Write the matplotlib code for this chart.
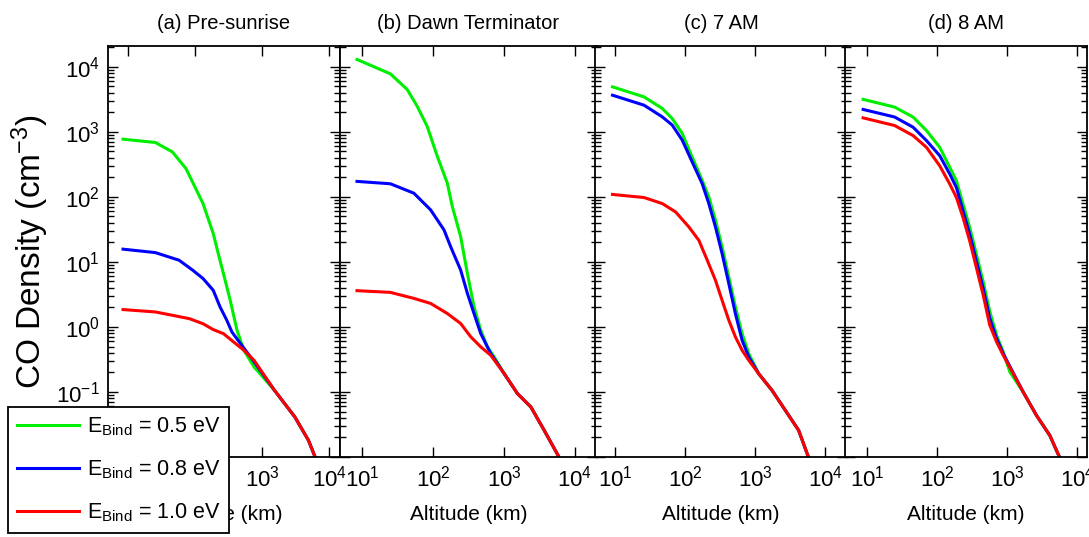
import numpy as np
import matplotlib
matplotlib.use("Agg")
import matplotlib.pyplot as plt

plt.rcParams['font.family'] = ['Liberation Sans', 'DejaVu Sans']
plt.rcParams['mathtext.fontset'] = 'custom'
plt.rcParams['mathtext.rm'] = 'Liberation Sans'
plt.rcParams['mathtext.it'] = 'Liberation Sans:italic'
plt.rcParams['axes.unicode_minus'] = False

titles = ["(a) Pre-sunrise", "(b) Dawn Terminator", "(c) 7 AM", "(d) 8 AM"]
labels = [r"$\mathregular{E_{Bind}}$ = 0.5 eV",
          r"$\mathregular{E_{Bind}}$ = 0.8 eV",
          r"$\mathregular{E_{Bind}}$ = 1.0 eV"]
colors = ['#00ee00', '#0000ff', '#ff0000']

# (a) Pre-sunrise
alt_a_green = [8.4, 25.5, 45.7, 72.9, 131, 186, 221, 264, 333, 421, 532, 755]
co_a_green = [771, 686, 492, 273, 78.9, 27.3, 13.4, 6.62, 2.57, 0.89, 0.438, 0.243]
alt_a_blue = [8.4, 25.5, 57.7, 92.0, 131, 186, 235, 296, 353, 473, 671]
co_a_blue = [15.7, 13.9, 10.6, 7.45, 5.55, 3.66, 2.03, 1.27, 0.837, 0.555, 0.345]
alt_a_red = [8.4, 25.5, 45.7, 82.0, 131, 186, 264, 375, 532, 755]
co_a_red = [1.85, 1.70, 1.51, 1.34, 1.12, 0.91, 0.789, 0.587, 0.438, 0.307]
alt_a_tail = [1524, 3069, 4898, 6194]
co_a_tail = [0.106, 0.0412, 0.018, 0.0098]

# (b) Dawn terminator
alt_b_green = [8.5, 25.1, 43.3, 59.8, 82.8, 115, 159, 187, 245, 305, 378, 470, 583, 726]
co_b_green = [12970, 7800, 4480, 2480, 1216, 420, 163, 71.1, 24.5, 6.67, 2.04, 0.893, 0.494, 0.347]
alt_b_blue = [8.5, 25.1, 53.7, 92.5, 143, 177, 245, 305, 378, 470, 650]
co_b_blue = [173, 159, 114, 63.2, 31.0, 17.2, 7.52, 3.28, 1.61, 0.792, 0.39]
alt_b_red = [8.5, 25.1, 53.7, 92.5, 159, 245, 340, 470, 650]
co_b_red = [3.61, 3.40, 2.75, 2.30, 1.61, 1.13, 0.705, 0.494, 0.367]
alt_b_tail = [1005, 1549, 2393, 3690, 6012]
co_b_tail = [0.192, 0.0942, 0.0587, 0.0256, 0.0098]

# (c) 7 AM
alt_c_green = [9.2, 25.9, 47.2, 65.5, 91.0, 126, 175, 218, 271, 337, 420, 522, 650, 809]
co_c_green = [4920, 3450, 2290, 1600, 942, 412, 180, 100, 43.8, 17.0, 5.87, 2.03, 0.789, 0.389]
alt_c_blue = [9.2, 25.9, 47.2, 65.5, 91.0, 126, 175, 218, 271, 337, 420, 522, 650, 809]
co_c_blue = [3660, 2570, 1700, 1270, 745, 345, 160, 78.9, 34.5, 13.4, 4.65, 1.60, 0.624, 0.345]
alt_c_red = [9.2, 25.9, 47.2, 73.1, 113, 157, 207, 271, 337, 420, 522, 650, 809]
co_c_red = [109, 97.7, 78.9, 58.7, 34.5, 21.5, 10.6, 5.22, 2.57, 1.27, 0.702, 0.438, 0.307]
alt_c_tail = [1122, 1738, 2692, 4169, 5781]
co_c_tail = [0.191, 0.106, 0.0522, 0.0257, 0.0098]

# (d) 8 AM
alt_d_green = [8.8, 24.8, 45.4, 70.5, 109, 152, 189, 235, 293, 365, 454, 565, 705, 877, 1091]
co_d_green = [3160, 2400, 1690, 1050, 579, 284, 177, 77.1, 33.6, 13.0, 5.02, 1.73, 0.752, 0.416, 0.204]
alt_d_blue = [8.8, 24.8, 45.4, 70.5, 109, 152, 189, 235, 293, 365, 454, 565, 705, 877]
co_d_blue = [2210, 1690, 1180, 735, 431, 224, 139, 60.8, 26.5, 10.2, 3.96, 1.36, 0.668, 0.392]
alt_d_red = [8.8, 24.8, 45.4, 70.5, 109, 152, 189, 235, 293, 365, 454, 565, 705, 877]
co_d_red = [1640, 1250, 877, 579, 301, 157, 97.7, 47.9, 20.9, 8.07, 3.13, 1.07, 0.593, 0.369]
alt_d_tail = [1694, 2624, 4074, 5649]
co_d_tail = [0.1, 0.0436, 0.0214, 0.0097]

panels = [
    ([(alt_a_green, co_a_green), (alt_a_blue, co_a_blue), (alt_a_red, co_a_red)], (alt_a_tail, co_a_tail)),
    ([(alt_b_green, co_b_green), (alt_b_blue, co_b_blue), (alt_b_red, co_b_red)], (alt_b_tail, co_b_tail)),
    ([(alt_c_green, co_c_green), (alt_c_blue, co_c_blue), (alt_c_red, co_c_red)], (alt_c_tail, co_c_tail)),
    ([(alt_d_green, co_d_green), (alt_d_blue, co_d_blue), (alt_d_red, co_d_red)], (alt_d_tail, co_d_tail)),
]

W, H = 1089, 537
fig = plt.figure(figsize=(W / 100, H / 100), dpi=100)

# pixel boxes (left, right) and x-limits (log10)
boxes = [(108, 340), (340, 597), (595, 847), (845, 1087)]
xlims = [(0.70, 4.16), (0.69, 4.31), (0.714, 4.31), (0.686, 4.14)]
top, bottom = 46, 457

lines = []
for i, ((curves, (tail_alt, tail_co)), (l, r), (x0, x1)) in enumerate(zip(panels, boxes, xlims)):
    ax = fig.add_axes([l / W, 1 - bottom / H, (r - l) / W, (bottom - top) / H])
    for (alt, co), c in zip(curves, colors):
        h, = ax.plot(alt + tail_alt, co + tail_co, color=c, lw=2.2)
        if i == 0:
            lines.append(h)
    ax.set_xscale('log')
    ax.set_yscale('log')
    ax.set_xlim(10 ** x0, 10 ** x1)
    ax.set_ylim(1e-2, 10 ** 4.32)
    ax.set_xticks([1e1, 1e2, 1e3, 1e4])
    ax.set_yticks([1e-2, 1e-1, 1e0, 1e1, 1e2, 1e3, 1e4])
    ax.tick_params(which='both', direction='in', top=True, right=True, width=1)
    ax.tick_params(which='major', length=7.5, labelsize=16, pad=6)
    ax.tick_params(which='minor', length=4)
    if i > 0:
        ax.tick_params(axis='y', which='both', labelleft=False)
    for s in ax.spines.values():
        s.set_linewidth(1.3)
    ax.set_title(titles[i], fontsize=14.5, pad=12)
    ax.set_xlabel("Altitude (km)", fontsize=15, labelpad=10)
    if i == 0:
        ax.set_ylabel(r"CO Density (cm$^{\mathregular{-3}}$)", fontsize=24)
        ax.yaxis.set_label_coords(-0.245, 0.5)

leg = fig.legend(lines, labels, loc='upper left', bbox_to_anchor=(8 / W, 1 - 407 / H),
                 bbox_transform=fig.transFigure, borderaxespad=0, fontsize=15.5,
                 handlelength=2.9, handletextpad=0.35, labelspacing=0.95,
                 borderpad=0.4, fancybox=False, framealpha=1, edgecolor='black')
leg.get_frame().set_linewidth(1.3)

fig.savefig("out.png", dpi=100)
